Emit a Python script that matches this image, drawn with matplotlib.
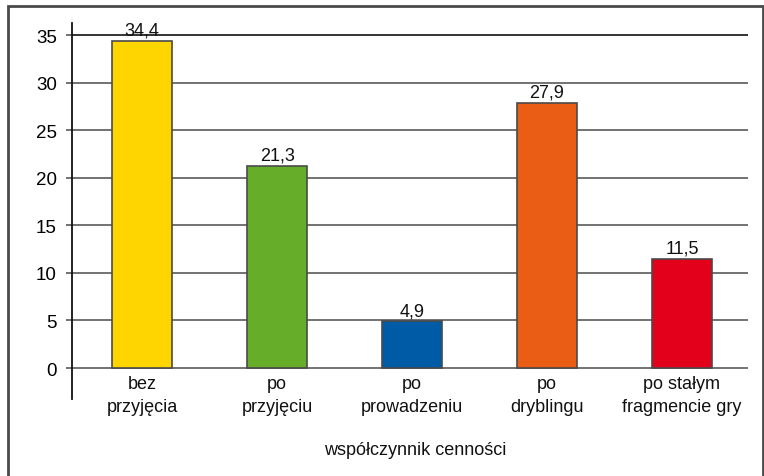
import matplotlib
matplotlib.use("Agg")
import matplotlib.pyplot as plt
from matplotlib import font_manager
from matplotlib.patches import Rectangle

categories = ["bez\nprzyjęcia", "po\nprzyjęciu", "po\nprowadzeniu", "po\ndryblingu", "po stałym\nfragmencie gry"]
values = [34.4, 21.3, 4.9, 27.9, 11.5]
value_labels = ["34,4", "21,3", "4,9", "27,9", "11,5"]
colors = ["#FFD500", "#66AE2A", "#005BA6", "#E95E14", "#E2001A"]
yticks = [0, 5, 10, 15, 20, 25, 30, 35]
xlabel = "współczynnik cenności"

names = {f.name for f in font_manager.fontManager.ttflist}
fam = "Liberation Sans Narrow" if "Liberation Sans Narrow" in names else "Liberation Sans"
plt.rcParams['font.family'] = [fam, 'DejaVu Sans']

W, H = 764, 477
fig = plt.figure(figsize=(W / 100, H / 100), dpi=100)
ax = fig.add_axes([72 / W, 1 - 400 / H, (748 - 72) / W, (400 - 24) / H])

x = list(range(len(categories)))
ax.bar(x, values, width=0.444, color=colors, edgecolor="#4a4a4a", linewidth=1.2, zorder=3)
for xi, v, lab in zip(x, values, value_labels):
    ax.annotate(lab, (xi, v), xytext=(0, 1.5), textcoords="offset points",
                ha="center", va="bottom", fontsize=13, color="#111")

ax.set_xlim(-0.52, 4.49)
ax.set_ylim(-3.26, 36.3)
ax.set_yticks(yticks)
ax.set_yticklabels([str(t) for t in yticks], fontsize=13.5)
for t in yticks:
    ax.axhline(t, color="#111" if t == 35 else "#5a5a5a", linewidth=1.2, zorder=1)
ax.tick_params(axis="y", length=4, width=1.2, color="#5a5a5a", pad=7)
ax.tick_params(axis="x", length=0, pad=0)
ax.set_xticks([])
for xi, c in zip(x, categories):
    ax.text(xi, -0.75, c, ha="center", va="top", fontsize=13, color="#111",
            linespacing=1.45)
ax.spines["top"].set_visible(False)
ax.spines["right"].set_visible(False)
ax.spines["bottom"].set_visible(False)
ax.spines["left"].set_color("#111")
ax.spines["left"].set_linewidth(1.3)

fig.text(415 / W, 1 - 451 / H, xlabel, ha="center", va="center", fontsize=13, color="#111")

frame = Rectangle((8 / W, -0.05), (763 - 8) / W, 1 - 7 / H + 0.05, transform=fig.transFigure,
                  fill=False, edgecolor="#4a4a4a", linewidth=2, clip_on=False)
fig.patches.append(frame)

fig.savefig("out.png", dpi=100)
